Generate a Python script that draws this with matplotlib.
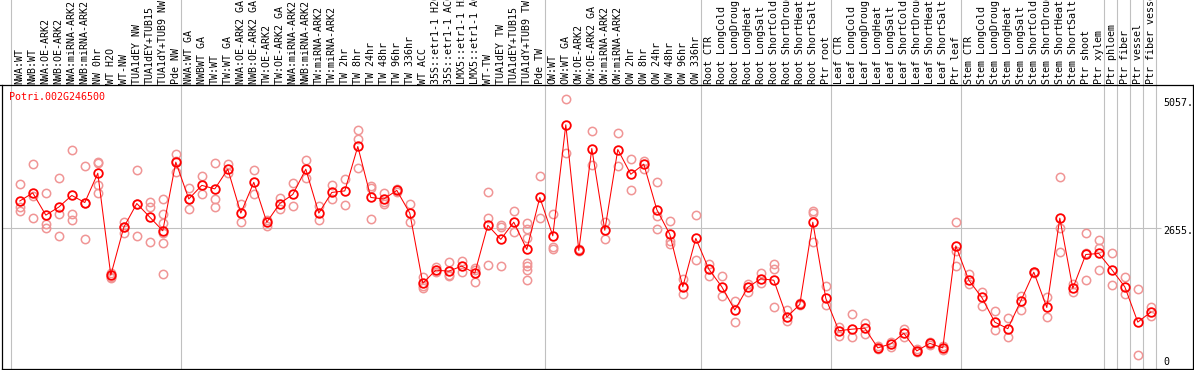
import matplotlib
matplotlib.use("Agg")
import matplotlib.pyplot as plt
import matplotlib.transforms as mtransforms
from matplotlib.lines import Line2D

# sample groups (labels as shown across the top)
labels_nw = ["NWA:WT", "NWB:WT", "NWA:OE-ARK2", "NWB:OE-ARK2", "NWA:miRNA-ARK2",
             "NWB:miRNA-ARK2", "NW 0hr", "WT H2O", "WT-NW", "TUA1dEY NW",
             "TUA1dEY+TUB15", "TUA1dY+TUB9 NW", "Pde NW"]
labels_tw = ["NWA:WT GA", "NWBWT GA", "TW:WT", "TW:WT GA", "NWA:OE-ARK2 GA",
             "NWB:OE-ARK2 GA", "TW:OE-ARK2", "TW:OE-ARK2 GA", "NWA:miRNA-ARK2",
             "NWB:miRNA-ARK2", "TW:miRNA-ARK2", "TW:miRNA-ARK2", "TW 2hr",
             "TW 8hr", "TW 24hr", "TW 48hr", "TW 96hr", "TW 336hr", "WT ACC",
             "35S::etr1-1 H2O", "35S::etr1-1 ACC", "LMX5::etr1-1 H2O",
             "LMX5::etr1-1 ACC", "WT-TW", "TUA1dEY TW", "TUA1dEY+TUB15",
             "TUA1dY+TUB9 TW", "Pde TW"]
labels_ow = ["OW:WT", "OW:WT GA", "OW:OE-ARK2", "OW:OE-ARK2 GA", "OW:miRNA-ARK2",
             "OW:miRNA-ARK2", "OW 2hr", "OW 8hr", "OW 24hr", "OW 48hr",
             "OW 96hr", "OW 336hr"]
labels_root = ["Root CTR", "Root LongCold", "Root LongDrought", "Root LongHeat",
               "Root LongSalt", "Root ShortCold", "Root ShortDrought",
               "Root ShortHeat", "Root ShortSalt", "Ptr root"]
labels_leaf = ["Leaf CTR", "Leaf LongCold", "Leaf LongDrought", "Leaf LongHeat",
               "Leaf LongSalt", "Leaf ShortCold", "Leaf ShortDrought",
               "Leaf ShortHeat", "Leaf ShortSalt", "Ptr leaf"]
labels_stem = ["Stem CTR", "Stem LongCold", "Stem LongDrought", "Stem LongHeat",
               "Stem LongSalt", "Stem ShortCold", "Stem ShortDrought",
               "Stem ShortHeat", "Stem ShortSalt", "Ptr shoot", "Ptr xylem"]
labels_ptr = ["Ptr phloem", "Ptr fiber", "Ptr vessel", "Ptr fiber vessel"]

# mean expression per sample
mean_nw = [3190, 3350, 2910, 3070, 3300, 3160, 3740, 1720, 2670, 3140, 2870, 2600, 3960]
mean_tw = [3230, 3500, 3430, 3820, 2950, 3560, 2770, 3140, 3320, 3820, 2950, 3360,
           3390, 4270, 3260, 3230, 3400, 2950, 1560, 1820, 1800, 1900, 1760, 2710,
           2430, 2770, 2230, 3260]
mean_ow = [2500, 4700, 2210, 4230, 2610, 4210, 3720, 3920, 3020, 2530, 1490, 2450]
mean_root = [1840, 1490, 1030, 1480, 1650, 1620, 890, 1140, 2770, 1260]
mean_leaf = [620, 650, 670, 280, 360, 570, 220, 370, 280, 2300]
mean_stem = [1620, 1280, 790, 660, 1210, 1780, 1080, 2850, 1460, 2130, 2150]
mean_ptr = [1830, 1490, 790, 990]

# replicate values per sample
reps_nw = [[3520, 3080, 3000], [3920, 3280, 2850], [3350, 2730, 2650],
           [3640, 2930, 2500], [4200, 2930, 2810], [3880, 3160, 2430],
           [3960, 3940, 3510, 3340], [1770, 1690, 1660], [2780, 2670, 2560],
           [3800, 3140, 2500], [3180, 3080, 2370],
           [3220, 2930, 2760, 2550, 2350, 1740], [4130, 3990, 3760]]
reps_tw = [[3450, 3230, 3030], [3680, 3320], [3940, 3220, 3080], [3920, 3740],
           [3140, 2770], [3800, 3320], [2810, 2690], [3240, 3030], [3540, 3100],
           [4000, 3640], [3090, 2810], [3500, 3220], [3620, 3120],
           [4590, 4410, 3840], [3490, 3450, 2830], [3350, 3170, 3140],
           [3430, 3370], [3140, 2770], [1680, 1510, 1470], [1880, 1780],
           [1980, 1720, 1700], [2000, 1780], [1870, 1830, 1580],
           [3360, 2850, 1920], [2710, 2680, 1900], [2990, 2570],
           [2750, 2640, 2460, 1960, 1900, 1820, 1620], [3680, 2850]]
reps_ow = [[2930, 2270, 2240], [5220, 4150], [2230, 2190], [4570, 3900],
           [2770, 2430], [4530, 3880], [4020, 3410], [3980, 3820],
           [3560, 2900, 2630], [2790, 2390, 2340], [1640, 1340], [2910, 2020]]
reps_root = [[1950, 1700], [1700, 1310], [1200, 790], [1550, 1380], [1760, 1560],
             [1940, 1840, 1080], [1030, 810], [1160, 1120], [3000, 2960, 2370],
             [1510, 1120]]
reps_leaf = [[700, 520], [950, 490], [770, 560], [320, 250], [400, 300],
             [650, 500], [250, 200], [400, 330], [320, 240], [2770, 2200, 1900]]
reps_stem = [[1750, 1550], [1390, 1110], [1010, 630], [880, 490], [1310, 1030],
             [1790, 1760], [1280, 900], [3670, 2650, 2170], [1540, 1390],
             [2550, 2160, 1620], [2420, 2250, 1820]]
reps_ptr = [[2150, 1520], [1680, 1340], [1440, 130], [1080, 910]]

gene = "Potri.002G246500"
tick_values = [5057, 2655, 0]
tick_text = ["5057.", "2655.", "0"]

groups = [labels_nw, labels_tw, labels_ow, labels_root, labels_leaf, labels_stem]
labels = sum(groups, []) + labels_ptr
means = mean_nw + mean_tw + mean_ow + mean_root + mean_leaf + mean_stem + mean_ptr
reps = reps_nw + reps_tw + reps_ow + reps_root + reps_leaf + reps_stem + reps_ptr
x = list(range(len(labels)))

W, H = 1194, 370
fig = plt.figure(figsize=(W / 100, H / 100), dpi=100)
fig.patch.set_facecolor("white")

# one axes over the whole figure; 13 px per sample, value 0 at y=362 px
ax = fig.add_axes([0, 0, 1, 1])
ax.set_axis_off()
step, x0 = 13.0, 19.8
upp = 2655 / 134.0
ax.set_xlim(-x0 / step, (W - x0) / step)
ax.set_ylim(-(H - 362) * upp, 362 * upp)


def fx(px):
    return px / W


def fy(py):
    return 1 - py / H


grid = "#c0c0c0"
mono = "DejaVu Sans Mono"

# vertical separators between sample groups (full height)
bounds = [-0.69]
n = 0
for g in groups:
    n += len(g)
    bounds.append(n - 1 + 0.385)
for k in range(len(labels_ptr)):
    bounds.append(n + k + 0.385)
for b in bounds:
    ax.axvline(b, color=grid, lw=0.8, zorder=1)

# horizontal reference line
ax.hlines(tick_values[1], (2 - x0) / step, (1161 - x0) / step, color=grid,
          lw=0.8, zorder=1)

# frame
fig.add_artist(Line2D([0, 1], [fy(85), fy(85)], color="black", lw=0.9))
fig.add_artist(Line2D([fx(1.5), fx(1.5)], [fy(85), fy(368.5)], color="black", lw=0.9))
fig.add_artist(Line2D([fx(1.5), fx(1193)], [fy(368.5), fy(368.5)], color="black", lw=0.9))
fig.add_artist(Line2D([fx(1193), fx(1193)], [fy(85), fy(368.5)], color="black", lw=0.9))

# replicates
for xi, r in zip(x, reps):
    ax.plot([xi] * len(r), r, "o", mfc="none", mec="#f09595", ms=6.0, mew=1.1,
            zorder=2, clip_on=False)

# means
ax.plot(x, means, "-", color="red", lw=0.75, marker="o", mfc="none", mec="red",
        ms=6.2, mew=1.3, zorder=3)

# sample labels
trans = mtransforms.blended_transform_factory(ax.transData, fig.transFigure)
for xi, lab in zip(x, labels):
    ax.text(xi, fy(83.5), lab, rotation=90, ha="center", va="bottom",
            transform=trans, family=mono, size=7.2, color="black")

fig.text(fx(9.3), fy(96.5), gene, color="red", family=mono, size=7.2,
         ha="left", va="center")

# value labels on the right
for v, t, dy in zip(tick_values, tick_text, [-3.5, 3.0, 0.3]):
    py = 362 - v / upp + dy
    fig.text(fx(1163), fy(py), t, family=mono, size=7.2, ha="left", va="center")

fig.savefig("out.png", dpi=100)
